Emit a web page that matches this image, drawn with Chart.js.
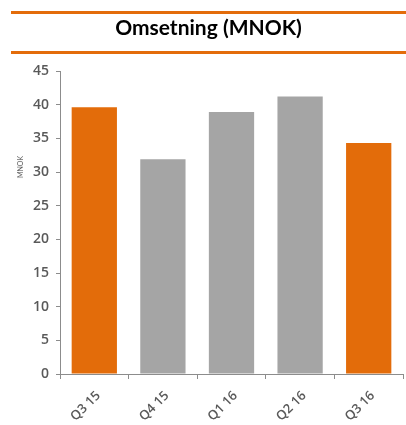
<!DOCTYPE html>
<html>
<head>
<meta charset="utf-8">
<script src="https://cdn.jsdelivr.net/npm/chart.js@4"></script>
<style>
  html, body { margin: 0; padding: 0; background: #fff; }
  #wrap { position: relative; width: 406px; height: 425px; }
  #head {
    position: absolute; left: 11px; top: 11px; width: 395px; height: 37px;
    border-top: 3px solid #E36C0A; border-bottom: 3px solid #E36C0A;
    text-align: center; line-height: 43px;
    font: bold 21px Lato, "Open Sans", sans-serif; color: #000;
  }
  #ytitle {
    position: absolute; left: 20px; top: 167px;
    transform: translate(-50%, -50%) rotate(-90deg);
    font: 7px Lato, sans-serif; color: #595959; white-space: nowrap;
  }
  canvas { position: absolute; left: 0; top: 0; }
</style>
</head>
<body>
<div id="wrap">
  <canvas id="c" width="406" height="425"></canvas>
  <div id="head">Omsetning (MNOK)</div>
  <div id="ytitle">MNOK</div>
</div>
<script>
// quarters and revenue (MNOK)
const quarters = ['Q3 15', 'Q4 15', 'Q1 16', 'Q2 16', 'Q3 16'];
const revenue = [39.6, 31.9, 38.9, 41.2, 34.3];
const highlight = [true, false, false, false, true];

const ORANGE = '#E36C0A';
const GREY = '#A5A5A5';
const AXIS = '#8C8C8C';
const TEXT = '#595959';

new Chart(document.getElementById('c'), {
  type: 'bar',
  data: {
    labels: quarters,
    datasets: [{
      label: 'Omsetning',
      data: revenue,
      backgroundColor: highlight.map(h => h ? ORANGE : GREY),
      categoryPercentage: 1,
      barPercentage: 0.66
    }]
  },
  options: {
    responsive: false,
    animation: false,
    layout: { padding: { top: 71, right: 3, left: 0, bottom: 0 } },
    plugins: {
      legend: { display: false },
      tooltip: { enabled: false }
    },
    scales: {
      y: {
        min: 0, max: 45,
        ticks: { stepSize: 5, color: TEXT, font: { family: 'Open Sans', size: 14, weight: '600' }, padding: 7 },
        grid: { drawOnChartArea: false, tickLength: 4, color: AXIS },
        border: { color: AXIS },
        afterFit: s => { s.width = 60; }
      },
      x: {
        ticks: { color: TEXT, font: { family: 'Open Sans', size: 13, weight: '600' }, minRotation: 45, maxRotation: 45, padding: 9, labelOffset: 4 },
        grid: { drawOnChartArea: false, tickLength: 5, color: AXIS, offset: true },
        border: { color: AXIS },
        afterFit: s => { s.height = 51; }
      }
    }
  }
});
</script>
</body>
</html>
